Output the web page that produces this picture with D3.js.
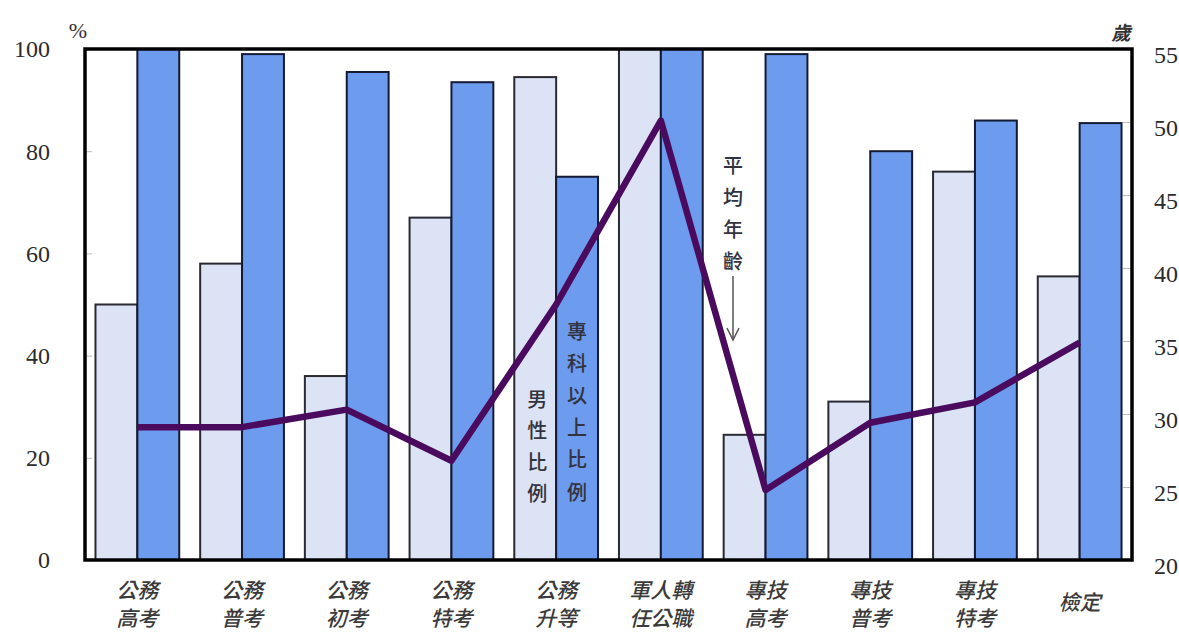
<!DOCTYPE html>
<html>
<head>
<meta charset="utf-8">
<script src="https://cdn.jsdelivr.net/npm/d3@7"></script>
<style>
  html, body { margin: 0; padding: 0; background: #fff; }
  svg { display: block; }
</style>
</head>
<body>
<svg id="chart" width="1179" height="632"></svg>
<script>
// ---- data ----
const categories = ["公務高考", "公務普考", "公務初考", "公務特考", "公務升等", "軍人轉任公職", "專技高考", "專技普考", "專技特考", "檢定"];
const categoryLines = [["公務", "高考"], ["公務", "普考"], ["公務", "初考"], ["公務", "特考"], ["公務", "升等"], ["軍人轉", "任公職"], ["專技", "高考"], ["專技", "普考"], ["專技", "特考"], ["檢定"]];
const maleRatio = [50, 58, 36, 67, 94.5, 100, 24.5, 31, 76, 55.5];          // 男性比例 (%)
const collegeRatio = [100, 99, 95.5, 93.5, 75, 100, 99, 80, 86, 85.5];       // 專科以上比例 (%)
const avgAge = [29.1, 29.1, 30.3, 26.8, 37.5, 50.1, 24.8, 29.4, 30.8, 34.9]; // 平均年齡 (歲)
const leftTicks = [0, 20, 40, 60, 80, 100];
const rightTicks = [20, 25, 30, 35, 40, 45, 50, 55];

// ---- layout ----
const svg = d3.select("#chart");
const L = 85, R = 1132, T = 49, B = 560;

const x = d3.scaleBand().domain(categories).range([L, R]).paddingInner(0.2).paddingOuter(0.1);
const xs = d3.scaleBand().domain(["male", "college"]).range([0, x.bandwidth()]);
const yL = d3.scaleLinear().domain([0, 100]).range([B, T]);
const yR = d3.scaleLinear().domain([20, 55]).range([B, T]);

const serif = "'Liberation Serif', 'DejaVu Serif', serif";
const cjk = "'Noto Sans CJK TC', 'Noto Sans CJK SC', sans-serif";

// axes (inward ticks)
const gl = svg.append("g").attr("transform", `translate(${L},0)`)
  .call(d3.axisLeft(yL).tickValues(leftTicks).tickSizeInner(-7).tickSizeOuter(0).tickPadding(35));
const gr = svg.append("g").attr("transform", `translate(${R},0)`)
  .call(d3.axisRight(yR).tickValues(rightTicks).tickSizeInner(-9).tickSizeOuter(0).tickPadding(22));
[gl, gr].forEach(g => {
  g.select(".domain").remove();
  g.selectAll(".tick line").attr("stroke", "#bbb").attr("stroke-width", 1);
  g.selectAll(".tick text").attr("font-family", serif).attr("font-size", 24).attr("fill", "#2b2b2b")
    .attr("transform", "scale(1,1.08)");
});
gl.selectAll(".tick text").attr("dy", "0.33em").attr("transform", null);
gr.selectAll(".tick text").attr("dy", "0.55em").attr("transform", null);

// bars
const groups = svg.append("g").selectAll("g").data(categories).join("g")
  .attr("transform", d => `translate(${x(d)},0)`);
groups.append("rect")
  .attr("x", xs("male")).attr("width", xs.bandwidth())
  .attr("y", (d, i) => yL(maleRatio[i])).attr("height", (d, i) => B - yL(maleRatio[i]))
  .attr("fill", "#dce3f4").attr("stroke", "#2a2a33").attr("stroke-width", 2);
groups.append("rect")
  .attr("x", xs("college")).attr("width", xs.bandwidth())
  .attr("y", (d, i) => yL(collegeRatio[i])).attr("height", (d, i) => B - yL(collegeRatio[i]))
  .attr("fill", "#6d9bee").attr("stroke", "#141a33").attr("stroke-width", 2);

// frame
svg.append("rect").attr("x", L).attr("y", T).attr("width", R - L).attr("height", B - T)
  .attr("fill", "none").attr("stroke", "#000").attr("stroke-width", 3.5);

// age line
const line = d3.line()
  .x((d, i) => x(categories[i]) + x.bandwidth() / 2)
  .y(d => yR(d));
svg.append("path").datum(avgAge).attr("d", line)
  .attr("fill", "none").attr("stroke", "#4a0b5e").attr("stroke-width", 6.5)
  .attr("stroke-linejoin", "round").attr("stroke-linecap", "butt");

// x labels
const xl = svg.append("g").selectAll("text").data(categories).join("text")
  .attr("x", d => x(d) + x.bandwidth() / 2)
  .attr("text-anchor", "middle")
  .attr("font-family", cjk).attr("font-size", 21).attr("font-style", "italic").attr("font-weight", 500)
  .attr("fill", "#3a3a3a");
xl.each(function(d, i) {
  const lines = categoryLines[i];
  const t = d3.select(this);
  if (lines.length === 1) {
    t.append("tspan").attr("x", x(d) + x.bandwidth() / 2).attr("y", 610).text(lines[0]);
  } else {
    lines.forEach((s, j) => t.append("tspan").attr("x", x(d) + x.bandwidth() / 2).attr("y", 598 + j * 28).text(s));
  }
});

// units
svg.append("text").attr("x", 78).attr("y", 38).attr("text-anchor", "middle")
  .attr("font-family", serif).attr("font-size", 22).attr("fill", "#333").text("%");
svg.append("text").attr("x", 1121).attr("y", 40).attr("text-anchor", "middle")
  .attr("font-family", cjk).attr("font-size", 19).attr("font-weight", "bold").attr("font-style", "italic")
  .attr("fill", "#333").text("歲");

// vertical annotations
function vtext(str, cx, y0, step) {
  svg.append("g").selectAll("text").data(str.split("")).join("text")
    .attr("x", cx).attr("y", (d, i) => y0 + i * step)
    .attr("text-anchor", "middle").attr("dominant-baseline", "central")
    .attr("font-family", cjk).attr("font-size", 20).attr("font-weight", 500).attr("fill", "#333340")
    .text(d => d);
}
const i5 = categories[4];
vtext("男性比例", x(i5) + xs("male") + xs.bandwidth() / 2 + 2, 398, 31.5);
vtext("專科以上比例", x(i5) + xs("college") + xs.bandwidth() / 2, 330, 32.2);
const annX = 733;
vtext("平均年齡", annX, 164, 32);
svg.append("line").attr("x1", annX).attr("x2", annX).attr("y1", 276).attr("y2", 340)
  .attr("stroke", "#555").attr("stroke-width", 1.5);
svg.append("path").attr("d", `M${annX - 6},${328} L${annX},${340} L${annX + 6},${328}`)
  .attr("fill", "none").attr("stroke", "#555").attr("stroke-width", 1.5);
</script>
</body>
</html>
